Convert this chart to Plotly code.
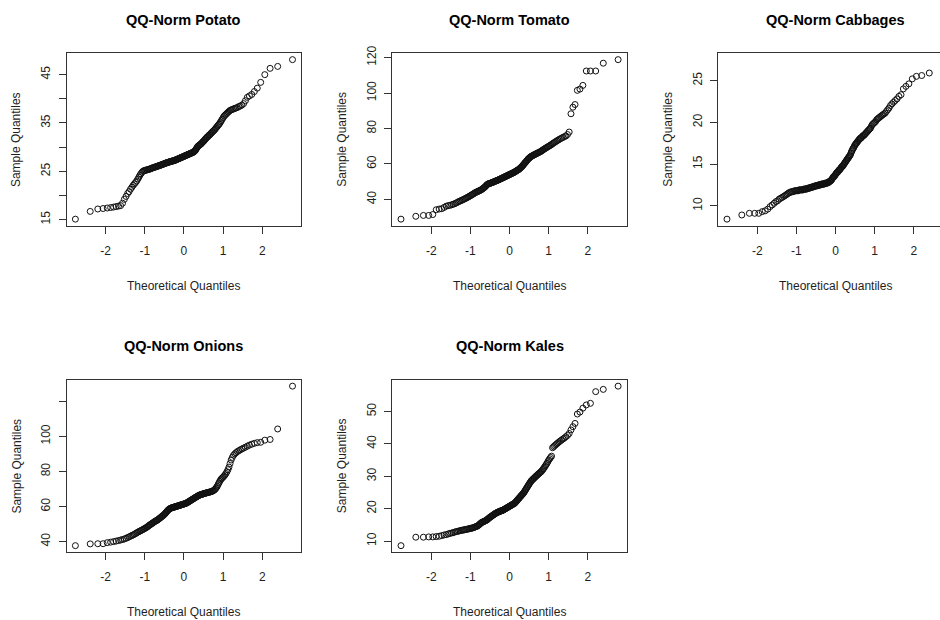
import statistics
import plotly.graph_objects as go

# ---------------- data (sample values, sorted) ----------------
potato = [
    15.1, 16.7, 17.2, 17.3, 17.4, 17.5, 17.6, 17.7, 17.8, 17.9,
    18.4, 19.2, 19.8, 20.4, 20.8, 21.3, 21.7, 22.1, 22.4, 22.7,
    23.0, 23.4, 23.8, 24.2, 24.5, 24.8, 25.0, 25.1, 25.2, 25.2,
    25.3, 25.3, 25.4, 25.4, 25.5, 25.5, 25.6, 25.7, 25.7, 25.8,
    25.8, 25.9, 25.9, 26.0, 26.0, 26.1, 26.1, 26.2, 26.2, 26.3,
    26.3, 26.4, 26.4, 26.5, 26.5, 26.6, 26.6, 26.7, 26.7, 26.8,
    26.8, 26.8, 26.9, 26.9, 27.0, 27.0, 27.0, 27.1, 27.1, 27.1,
    27.2, 27.2, 27.2, 27.3, 27.3, 27.4, 27.4, 27.5, 27.5, 27.6,
    27.6, 27.7, 27.7, 27.8, 27.8, 27.9, 27.9, 28.0, 28.0, 28.1,
    28.1, 28.2, 28.2, 28.3, 28.3, 28.4, 28.4, 28.5, 28.5, 28.6,
    28.6, 28.7, 28.7, 28.8, 28.8, 28.9, 28.9, 29.0, 29.1, 29.2,
    29.3, 29.5, 29.7, 29.9, 30.1, 30.2, 30.3, 30.4, 30.5, 30.6,
    30.7, 30.8, 31.0, 31.1, 31.2, 31.4, 31.5, 31.7, 31.8, 32.0,
    32.1, 32.2, 32.4, 32.5, 32.6, 32.8, 32.9, 33.1, 33.2, 33.4,
    33.5, 33.7, 33.9, 34.1, 34.3, 34.5, 34.7, 34.9, 35.2, 35.5,
    35.8, 36.1, 36.4, 36.6, 36.8, 37.0, 37.2, 37.4, 37.6, 37.7,
    37.8, 37.9, 38.0, 38.1, 38.2, 38.4, 38.5, 38.7, 39.0, 39.6,
    40.3, 40.6, 40.9, 41.5, 42.2, 43.4, 45.0, 46.3, 46.7, 48.1,
]
tomato = [
    28.9, 30.5, 31.0, 31.0, 31.5, 34.2, 34.6, 34.8, 35.5, 36.2,
    36.5, 36.7, 37.0, 37.3, 37.6, 38.0, 38.4, 38.8, 39.1, 39.4,
    39.7, 40.0, 40.3, 40.6, 40.9, 41.2, 41.5, 41.8, 42.1, 42.4,
    42.7, 43.0, 43.3, 43.6, 43.9, 44.1, 44.3, 44.5, 44.7, 44.9,
    45.1, 45.3, 45.5, 45.8, 46.1, 46.4, 46.7, 47.0, 47.4, 47.8,
    48.2, 48.5, 48.7, 48.9, 49.0, 49.1, 49.2, 49.3, 49.5, 49.6,
    49.7, 49.9, 50.0, 50.2, 50.3, 50.4, 50.6, 50.7, 50.8, 51.0,
    51.1, 51.3, 51.4, 51.6, 51.7, 51.9, 52.0, 52.2, 52.3, 52.5,
    52.6, 52.8, 52.9, 53.1, 53.2, 53.4, 53.5, 53.7, 53.8, 54.0,
    54.1, 54.3, 54.4, 54.6, 54.7, 54.9, 55.0, 55.2, 55.3, 55.5,
    55.7, 55.9, 56.1, 56.3, 56.5, 56.7, 56.9, 57.1, 57.4, 57.7,
    58.0, 58.3, 58.6, 59.0, 59.4, 59.8, 60.2, 60.6, 61.0, 61.4,
    61.8, 62.2, 62.6, 63.0, 63.3, 63.6, 63.9, 64.2, 64.4, 64.6,
    64.8, 65.0, 65.2, 65.4, 65.6, 65.8, 66.0, 66.2, 66.4, 66.6,
    66.8, 67.0, 67.3, 67.6, 67.9, 68.2, 68.5, 68.8, 69.1, 69.4,
    69.7, 70.0, 70.3, 70.6, 71.0, 71.4, 71.8, 72.2, 72.6, 73.0,
    73.4, 73.8, 74.2, 74.6, 75.0, 75.4, 75.8, 76.6, 78.0, 88.3,
    92.0, 93.5, 101.5, 102.2, 104.3, 112.4, 112.4, 112.4, 116.8, 118.8,
]
cabbages = [
    8.4, 8.9, 9.1, 9.1, 9.1, 9.3, 9.4, 9.6, 9.9, 10.1,
    10.3, 10.5, 10.6, 10.8, 10.9, 11.0, 11.1, 11.2, 11.3, 11.4,
    11.5, 11.6, 11.6, 11.7, 11.7, 11.7, 11.8, 11.8, 11.8, 11.8,
    11.8, 11.9, 11.9, 11.9, 11.9, 11.9, 11.9, 12.0, 12.0, 12.0,
    12.0, 12.0, 12.1, 12.1, 12.1, 12.1, 12.2, 12.2, 12.2, 12.2,
    12.3, 12.3, 12.3, 12.3, 12.4, 12.4, 12.4, 12.4, 12.4, 12.5,
    12.5, 12.5, 12.5, 12.5, 12.6, 12.6, 12.6, 12.6, 12.6, 12.6,
    12.7, 12.7, 12.7, 12.7, 12.7, 12.8, 12.8, 12.8, 12.9, 12.9,
    13.0, 13.0, 13.1, 13.2, 13.3, 13.4, 13.5, 13.5, 13.6, 13.7,
    13.8, 13.9, 14.0, 14.0, 14.1, 14.2, 14.3, 14.3, 14.4, 14.5,
    14.6, 14.7, 14.7, 14.8, 14.9, 15.0, 15.1, 15.2, 15.3, 15.4,
    15.5, 15.6, 15.7, 15.8, 15.9, 16.0, 16.1, 16.3, 16.5, 16.6,
    16.8, 16.9, 17.0, 17.2, 17.3, 17.4, 17.5, 17.6, 17.7, 17.8,
    17.9, 18.0, 18.1, 18.1, 18.2, 18.3, 18.4, 18.4, 18.5, 18.6,
    18.7, 18.8, 18.9, 19.0, 19.1, 19.2, 19.3, 19.5, 19.7, 19.8,
    19.9, 20.0, 20.1, 20.3, 20.4, 20.5, 20.6, 20.7, 20.8, 20.9,
    21.0, 21.1, 21.3, 21.5, 21.7, 22.0, 22.2, 22.4, 22.6, 22.8,
    23.1, 23.3, 24.0, 24.3, 24.6, 25.2, 25.5, 25.6, 25.9, 27.5,
]
onions = [
    37.7, 38.7, 38.8, 38.8, 39.4, 39.7, 40.0, 40.3, 40.6, 40.9,
    41.2, 41.5, 41.9, 42.3, 42.7, 43.1, 43.5, 43.8, 44.2, 44.6,
    45.0, 45.4, 45.7, 46.0, 46.3, 46.6, 46.9, 47.2, 47.5, 47.8,
    48.1, 48.4, 48.8, 49.2, 49.5, 49.8, 50.1, 50.4, 50.7, 51.0,
    51.3, 51.6, 51.8, 52.0, 52.2, 52.5, 52.8, 53.1, 53.4, 53.7,
    54.0, 54.3, 54.6, 54.9, 55.2, 55.5, 55.9, 56.3, 56.7, 57.1,
    57.5, 57.9, 58.2, 58.5, 58.7, 58.9, 59.1, 59.2, 59.3, 59.4,
    59.5, 59.6, 59.7, 59.8, 59.9, 60.0, 60.1, 60.2, 60.3, 60.4,
    60.5, 60.6, 60.7, 60.8, 60.9, 61.0, 61.1, 61.2, 61.3, 61.4,
    61.5, 61.6, 61.7, 61.8, 62.0, 62.1, 62.3, 62.5, 62.7, 62.9,
    63.1, 63.3, 63.5, 63.7, 63.9, 64.1, 64.3, 64.5, 64.7, 64.9,
    65.1, 65.3, 65.5, 65.7, 65.9, 66.1, 66.3, 66.5, 66.6, 66.7,
    66.8, 66.9, 67.0, 67.2, 67.3, 67.4, 67.5, 67.6, 67.7, 67.8,
    67.9, 68.0, 68.1, 68.2, 68.3, 68.4, 68.5, 68.7, 68.9, 69.1,
    69.4, 69.8, 70.3, 70.9, 71.6, 72.5, 73.4, 74.3, 75.1, 75.8,
    76.3, 76.8, 77.4, 78.0, 78.8, 79.8, 81.0, 82.5, 84.5, 86.5,
    88.0, 89.2, 90.0, 90.7, 91.3, 91.8, 92.3, 92.8, 93.3, 93.8,
    94.4, 95.0, 95.5, 96.0, 96.4, 96.6, 97.8, 98.2, 104.2, 128.6,
]
kales = [
    8.6, 11.2, 11.2, 11.3, 11.3, 11.4, 11.5, 11.7, 11.9, 12.0,
    12.2, 12.4, 12.5, 12.6, 12.8, 12.9, 13.0, 13.1, 13.2, 13.3,
    13.4, 13.4, 13.5, 13.6, 13.6, 13.7, 13.8, 13.8, 13.9, 14.0,
    14.0, 14.1, 14.2, 14.3, 14.4, 14.5, 14.6, 14.7, 14.9, 15.1,
    15.3, 15.5, 15.7, 15.8, 15.9, 16.0, 16.1, 16.2, 16.3, 16.4,
    16.5, 16.7, 16.9, 17.0, 17.2, 17.3, 17.5, 17.6, 17.7, 17.9,
    18.0, 18.1, 18.3, 18.4, 18.5, 18.6, 18.7, 18.8, 18.9, 19.0,
    19.0, 19.1, 19.2, 19.3, 19.3, 19.4, 19.4, 19.5, 19.6, 19.7,
    19.8, 19.9, 20.0, 20.1, 20.2, 20.3, 20.4, 20.5, 20.6, 20.7,
    20.8, 20.9, 21.0, 21.1, 21.2, 21.3, 21.4, 21.5, 21.6, 21.7,
    21.9, 22.1, 22.3, 22.5, 22.7, 22.9, 23.1, 23.3, 23.5, 23.7,
    23.9, 24.1, 24.3, 24.5, 24.7, 24.9, 25.2, 25.5, 25.8, 26.1,
    26.4, 26.7, 27.0, 27.3, 27.6, 27.9, 28.2, 28.5, 28.7, 28.9,
    29.1, 29.3, 29.5, 29.7, 29.9, 30.1, 30.3, 30.5, 30.7, 30.9,
    31.1, 31.3, 31.5, 31.8, 32.1, 32.4, 32.8, 33.2, 33.6, 34.0,
    34.5, 35.0, 35.4, 35.8, 36.2, 38.8, 39.1, 39.4, 39.7, 40.0,
    40.3, 40.6, 40.9, 41.2, 41.5, 41.8, 42.2, 42.6, 43.2, 44.3,
    45.3, 46.3, 49.2, 49.8, 51.0, 52.0, 52.5, 56.1, 56.8, 57.8,
]

titles = ["QQ-Norm Potato", "QQ-Norm Tomato", "QQ-Norm Cabbages",
          "QQ-Norm Onions", "QQ-Norm Kales"]
x_ticks = [-2, -1, 0, 1, 2]
y_ticks = [[15, 20, 25, 30, 35, 40, 45],
           [40, 60, 80, 100, 120],
           [10, 15, 20, 25],
           [40, 60, 80, 100, 120],
           [10, 20, 30, 40, 50]]
y_tick_labels = [["15", "", "25", "", "35", "", "45"],
                 ["40", "60", "80", "100", "120"],
                 ["10", "15", "20", "25"],
                 ["40", "60", "80", "100", ""],
                 ["10", "20", "30", "40", "50"]]
x_label = "Theoretical Quantiles"
y_label = "Sample Quantiles"
series = [potato, tomato, cabbages, onions, kales]

# ---------------- layout geometry (pixels of the target picture) ----------------
W, H = 940, 620
col_left = [66.7, 392.3, 718.3]
box_w = 234.5
row_top = [53.0, 379.0]
box_h = 172.0
title_y = [19.5, 345.5]
xlab_y = [285.0, 610.5]
TXT = "#1e1e1e"
LINE = "#333333"
FONT = "Liberation Sans, Arial, sans-serif"

# vertical calibration of the page (measured from a previous render)
V_OFF, V_SCALE = 7.8, 0.9856


def px_x(p):
    return p / W


def px_y(p):
    fig_px = (p - V_OFF) / V_SCALE
    return 1 - fig_px / H


def qq_theoretical(n):
    nd = statistics.NormalDist()
    a = 3 / 8 if n <= 10 else 0.5
    return [nd.inv_cdf((i + 1 - a) / (n + 1 - 2 * a)) for i in range(n)]


def r_range(vals):
    lo, hi = min(vals), max(vals)
    d = (hi - lo) * 0.04
    return [lo - d, hi + d]


fig = go.Figure()
annotations = []
for k, vals in enumerate(series):
    row, col = divmod(k, 3)
    idx = "" if k == 0 else str(k + 1)
    theo = qq_theoretical(len(vals))
    fig.add_trace(go.Scatter(
        x=theo, y=vals, mode="markers",
        xaxis="x" + idx, yaxis="y" + idx,
        marker=dict(symbol="circle-open", size=6, color="#111111",
                    line=dict(width=1, color="#111111")),
        showlegend=False, hoverinfo="x+y",
    ))
    left = col_left[col]
    right = left + box_w
    top = row_top[row]
    bottom = top + box_h
    xr = r_range(theo)
    x_dom_right = right
    if right > W:  # panel cut by the picture's right edge
        x_dom_right = W
        xr = [xr[0], xr[0] + (xr[1] - xr[0]) * (W - left) / box_w]
    yr = r_range(vals)
    common = dict(showline=True, linecolor=LINE, linewidth=1, ticks="outside",
                  ticklen=7, tickwidth=1, tickcolor=LINE, showgrid=False,
                  zeroline=False, tickfont=dict(family=FONT, size=12, color=TXT))
    fig.layout["xaxis" + idx] = dict(
        domain=[px_x(left), px_x(x_dom_right)], range=xr,
        anchor="y" + idx, tickmode="array", tickvals=x_ticks,
        ticktext=[str(t) for t in x_ticks], mirror=True,
        ticklabelstandoff=7, **common)
    fig.layout["yaxis" + idx] = dict(
        domain=[px_y(bottom), px_y(top)], range=yr,
        anchor="x" + idx, tickmode="array", tickvals=y_ticks[k],
        ticktext=y_tick_labels[k], tickangle=-90,
        mirror=(right <= W), ticklabelstandoff=4, **common)
    cx = left + box_w / 2
    annotations.append(dict(text="<b>" + titles[k] + "</b>", x=px_x(cx), y=px_y(title_y[row]),
                            xref="paper", yref="paper", showarrow=False,
                            xanchor="center", yanchor="middle",
                            font=dict(family=FONT, size=14.5, color="#000000")))
    annotations.append(dict(text=x_label, x=px_x(cx), y=px_y(xlab_y[row]),
                            xref="paper", yref="paper", showarrow=False,
                            xanchor="center", yanchor="middle",
                            font=dict(family=FONT, size=12, color=TXT)))
    annotations.append(dict(text=y_label, x=px_x(left - 50), y=px_y(top + box_h / 2),
                            xref="paper", yref="paper", showarrow=False, textangle=-90,
                            xanchor="center", yanchor="middle",
                            font=dict(family=FONT, size=12, color=TXT)))

fig.update_layout(
    width=W, height=H, autosize=False,
    margin=dict(l=0, r=0, t=0, b=0),
    paper_bgcolor="white", plot_bgcolor="white",
    annotations=annotations, showlegend=False,
)
fig.write_html(
    "out.html",
    config={"displayModeBar": False},
    post_script="document.body.style.margin='0';document.body.style.padding='0';"
                "document.body.style.overflow='hidden';",
)
